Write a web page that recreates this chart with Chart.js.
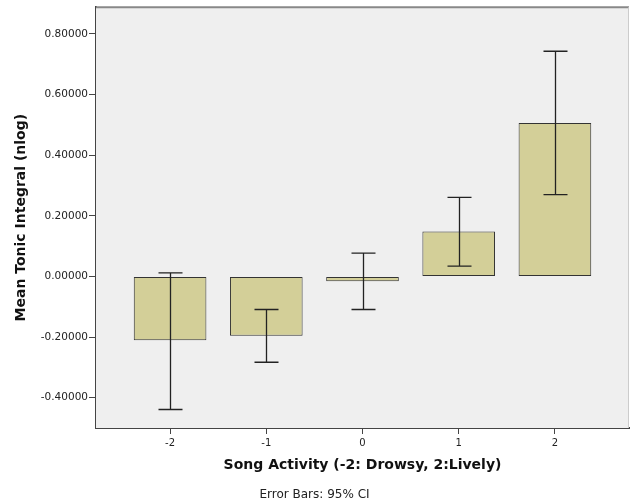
<!DOCTYPE html>
<html>
<head>
<meta charset="utf-8">
<script src="https://cdn.jsdelivr.net/npm/chart.js@4/dist/chart.umd.min.js"></script>
<style>
  body { margin: 0; background: #fff; }
</style>
</head>
<body>
<canvas id="c" width="630" height="504"></canvas>
<script>
// song activity levels and group means with 95% CI
var categories = [-2, -1, 0, 1, 2];
var means  = [-0.2105, -0.196, -0.016, 0.148, 0.506];
var ciHigh = [0.012, -0.109, 0.077, 0.261, 0.743];
var ciLow  = [-0.439, -0.283, -0.109, 0.034, 0.270];
var yTicks = [-0.4, -0.2, 0, 0.2, 0.4, 0.6, 0.8];

var fontFam = "'DejaVu Sans', Verdana, sans-serif";

// grey plot panel + top/right frame
var panel = {
  id: 'panel',
  beforeDatasetsDraw: function (chart) {
    var a = chart.chartArea, ctx = chart.ctx;
    ctx.save();
    ctx.fillStyle = '#efefef';
    ctx.fillRect(a.left, a.top, a.right - a.left, a.bottom - a.top);
    ctx.restore();
  },
  afterDraw: function (chart) {
    var a = chart.chartArea, ctx = chart.ctx;
    ctx.save();
    ctx.strokeStyle = '#888';
    ctx.lineWidth = 2;
    ctx.beginPath();
    ctx.moveTo(a.left, a.top);
    ctx.lineTo(a.right, a.top);
    ctx.stroke();
    ctx.strokeStyle = '#ccc';
    ctx.lineWidth = 1;
    ctx.beginPath();
    ctx.moveTo(a.right - 0.5, a.top);
    ctx.lineTo(a.right - 0.5, a.bottom);
    ctx.stroke();
    ctx.restore();
  }
};

// error bars drawn from ciLow / ciHigh through the scales
var errorBars = {
  id: 'errorBars',
  afterDatasetsDraw: function (chart) {
    var ctx = chart.ctx;
    var x = chart.scales.x, y = chart.scales.y;
    ctx.save();
    ctx.strokeStyle = '#222';
    ctx.lineWidth = 1.3;
    for (var i = 0; i < categories.length; i++) {
      var px = Math.round(x.getPixelForValue(categories[i])) + 0.5;
      var top = y.getPixelForValue(ciHigh[i]);
      var bot = y.getPixelForValue(ciLow[i]);
      ctx.beginPath();
      ctx.moveTo(px, top);
      ctx.lineTo(px, bot);
      ctx.moveTo(px - 12, top);
      ctx.lineTo(px + 12, top);
      ctx.moveTo(px - 12, bot);
      ctx.lineTo(px + 12, bot);
      ctx.stroke();
    }
    ctx.restore();
  }
};

var ctx = document.getElementById('c');

var chart = new Chart(ctx, {
  type: 'bar',
  data: {
    datasets: [{
      data: categories.map(function (c, i) { return { x: c, y: means[i] }; }),
      backgroundColor: '#d3cf98',
      borderColor: '#333',
      borderWidth: 1,
      borderSkipped: false,
      barPercentage: 0.755,
      categoryPercentage: 1
    }]
  },
  options: {
    responsive: false,
    animation: false,
    events: [],
    layout: { padding: { top: 6, right: 1, left: 0, bottom: 0 } },
    plugins: {
      legend: { display: false },
      tooltip: { enabled: false },
      title: {
        display: true,
        position: 'bottom',
        text: 'Error Bars: 95% CI',
        color: '#222',
        font: { family: fontFam, size: 12, weight: 'normal' },
        padding: { top: 9.4, bottom: 1.8 }
      }
    },
    scales: {
      x: {
        type: 'linear',
        min: -2.77,
        max: 2.77,
        offset: false,
        afterBuildTicks: function (s) { s.ticks = categories.map(function (v) { return { value: v }; }); },
        afterFit: function (s) { s.height = 50.4; },
        grid: { display: true, offset: false, drawOnChartArea: false, tickLength: 6, tickColor: '#444', tickWidth: 1 },
        border: { color: '#444', width: 2 },
        ticks: {
          color: '#222',
          font: { family: fontFam, size: 10 },
          padding: 3,
          maxRotation: 0,
          callback: function (v) { return String(v); }
        },
        title: {
          display: true,
          text: 'Song Activity (-2: Drowsy, 2:Lively)',
          color: '#111',
          font: { family: fontFam, size: 14, weight: 'bold' },
          padding: { top: 0, bottom: 4.5 }
        }
      },
      y: {
        min: -0.5,
        max: 0.888,
        afterBuildTicks: function (s) { s.ticks = yTicks.map(function (v) { return { value: v }; }); },
        afterFit: function (s) { s.width = 96; },
        grid: { display: true, drawOnChartArea: false, tickLength: 7, tickColor: '#444', tickWidth: 1 },
        border: { color: '#444', width: 2 },
        ticks: {
          color: '#222',
          font: { family: fontFam, size: 10.5 },
          padding: 1,
          callback: function (v) { return Number(v).toFixed(5); }
        },
        title: {
          display: true,
          text: 'Mean Tonic Integral (nlog)',
          color: '#111',
          font: { family: fontFam, size: 14, weight: 'bold' },
          padding: { top: 12.6, bottom: 0 }
        }
      }
    }
  },
  plugins: [panel, errorBars]
});
</script>
</body>
</html>
